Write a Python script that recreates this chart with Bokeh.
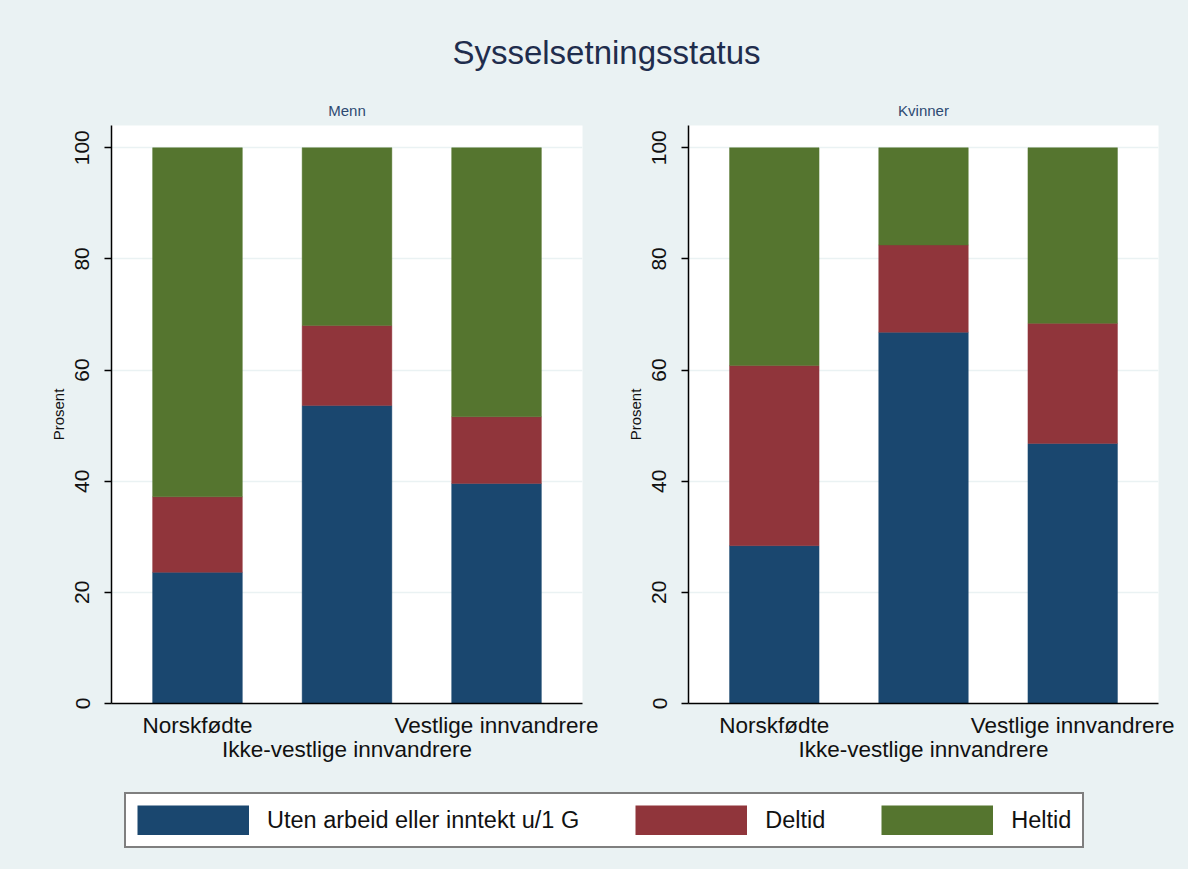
from bokeh.plotting import figure
from bokeh.layouts import column, row
from bokeh.models import (Range1d, FixedTicker, Label, Legend, LegendItem,
                          ColumnDataSource)
from bokeh.embed import file_html
from bokeh.resources import INLINE

# ---------------- data ----------------
categories = ["Norskfødte", "Ikke-vestlige innvandrere", "Vestlige innvandrere"]
series_names = ["Uten arbeid eller inntekt u/1 G", "Deltid", "Heltid"]
panel_titles = ["Menn", "Kvinner"]

menn_uten = [23.6, 53.6, 39.6]
menn_deltid = [13.6, 14.4, 12.0]
menn_heltid = [62.8, 32.0, 48.4]

kvinner_uten = [28.4, 66.8, 46.8]
kvinner_deltid = [32.4, 15.7, 21.6]
kvinner_heltid = [39.2, 17.5, 31.6]

y_ticks = [0, 20, 40, 60, 80, 100]

# ---------------- style ----------------
BG = "#EAF2F3"
COLORS = ["#1A476F", "#90353B", "#55752F"]
FONT = "Liberation Sans"
TEXT = "#111111"


def panel(title, uten, deltid, heltid, width, left, right):
    src = ColumnDataSource(dict(
        x=[i + 1 for i in range(len(categories))],
        uten=uten, deltid=deltid, heltid=heltid))
    p = figure(width=width, height=700, output_backend="svg",
               toolbar_location=None,
               x_range=Range1d(0.425, 3.575), y_range=Range1d(0, 104),
               min_border_left=left, min_border_right=right,
               min_border_top=35, min_border_bottom=87)
    p.background_fill_color = "white"
    p.border_fill_color = BG
    p.outline_line_color = None

    p.vbar_stack(["uten", "deltid", "heltid"], x="x", width=0.6, source=src,
                 fill_color=COLORS, line_color=COLORS, line_alpha=0.45,
                 line_width=1)

    p.title.text = title
    p.title.align = "center"
    p.title.text_font = FONT
    p.title.text_font_size = "15px"
    p.title.text_font_style = "normal"
    p.title.text_color = "#2E4A72"
    p.title.standoff = 14

    # y axis
    ya = p.yaxis[0]
    ya.ticker = FixedTicker(ticks=y_ticks)
    ya.axis_label = "Prosent"
    ya.axis_label_text_font = FONT
    ya.axis_label_text_font_size = "15px"
    ya.axis_label_text_font_style = "normal"
    ya.axis_label_text_color = TEXT
    ya.axis_label_standoff = 6
    ya.major_label_orientation = "vertical"
    ya.major_label_text_font = FONT
    ya.major_label_text_font_size = "21px"
    ya.major_label_text_color = TEXT
    ya.major_label_standoff = 15
    ya.major_tick_out = 7
    ya.major_tick_in = 0
    ya.minor_tick_out = 0
    ya.minor_tick_in = 0
    ya.axis_line_color = "black"
    ya.axis_line_width = 1.5
    ya.major_tick_line_width = 1.5

    # x axis
    xa = p.xaxis[0]
    xa.ticker = FixedTicker(ticks=[1, 2, 3])
    xa.major_label_overrides = {1: categories[0], 2: "", 3: categories[2]}
    xa.axis_label = categories[1]
    xa.axis_label_text_font = FONT
    xa.axis_label_text_font_size = "22.5px"
    xa.axis_label_text_font_style = "normal"
    xa.axis_label_text_color = TEXT
    xa.axis_label_standoff = -4
    xa.major_label_text_font = FONT
    xa.major_label_text_font_size = "22.5px"
    xa.major_label_text_color = TEXT
    xa.major_label_standoff = 9
    xa.major_tick_out = 0
    xa.major_tick_in = 0
    xa.minor_tick_out = 0
    xa.minor_tick_in = 0
    xa.axis_line_color = "black"
    xa.axis_line_width = 1.5

    p.xgrid.grid_line_color = None
    p.ygrid.ticker = FixedTicker(ticks=y_ticks)
    p.ygrid.grid_line_color = BG
    p.ygrid.grid_line_width = 1.5
    return p


p1 = panel(panel_titles[0], menn_uten, menn_deltid, menn_heltid, 618, 111, 36)
p2 = panel(panel_titles[1], kvinner_uten, kvinner_deltid, kvinner_heltid, 570, 70, 30)


def blank(width, height):
    f = figure(width=width, height=height, output_backend="svg",
               toolbar_location=None, x_range=Range1d(0, 1),
               y_range=Range1d(0, 1), x_axis_type=None, y_axis_type=None,
               min_border=0)
    f.outline_line_color = None
    f.background_fill_color = BG
    f.border_fill_color = BG
    f.xgrid.visible = False
    f.ygrid.visible = False
    return f


# title strip
pt = blank(1188, 90)
pt.add_layout(Label(x=606, y=38, x_units="screen", y_units="screen",
                    text="Sysselsetningsstatus", text_align="center",
                    text_baseline="middle", text_font=FONT,
                    text_font_size="33px", text_color="#1F2D4D"))

# legend strip: thick butt-capped line swatches (off-range data) give
# full-size colour blocks in the legend
pl = blank(1188, 79)
items = []
for name, col in zip(series_names, COLORS):
    r = pl.line(x=[-5, -4], y=[-5, -5], line_color=col, line_width=30,
                line_cap="butt")
    items.append(LegendItem(label=name, renderers=[r]))
leg = Legend(items=items, orientation="horizontal", location=(124, 21),
             glyph_width=112, glyph_height=30, label_standoff=18,
             spacing=56, padding=11, margin=0,
             label_text_font=FONT, label_text_font_size="23.5px",
             label_text_color=TEXT,
             border_line_color="black", border_line_width=2,
             background_fill_color="white", background_fill_alpha=1.0)
pl.add_layout(leg)

layout = column(pt, row(p1, p2, styles={"background-color": BG}),
                pl, styles={"background-color": BG})

open("out.html", "w").write(file_html(layout, INLINE))
